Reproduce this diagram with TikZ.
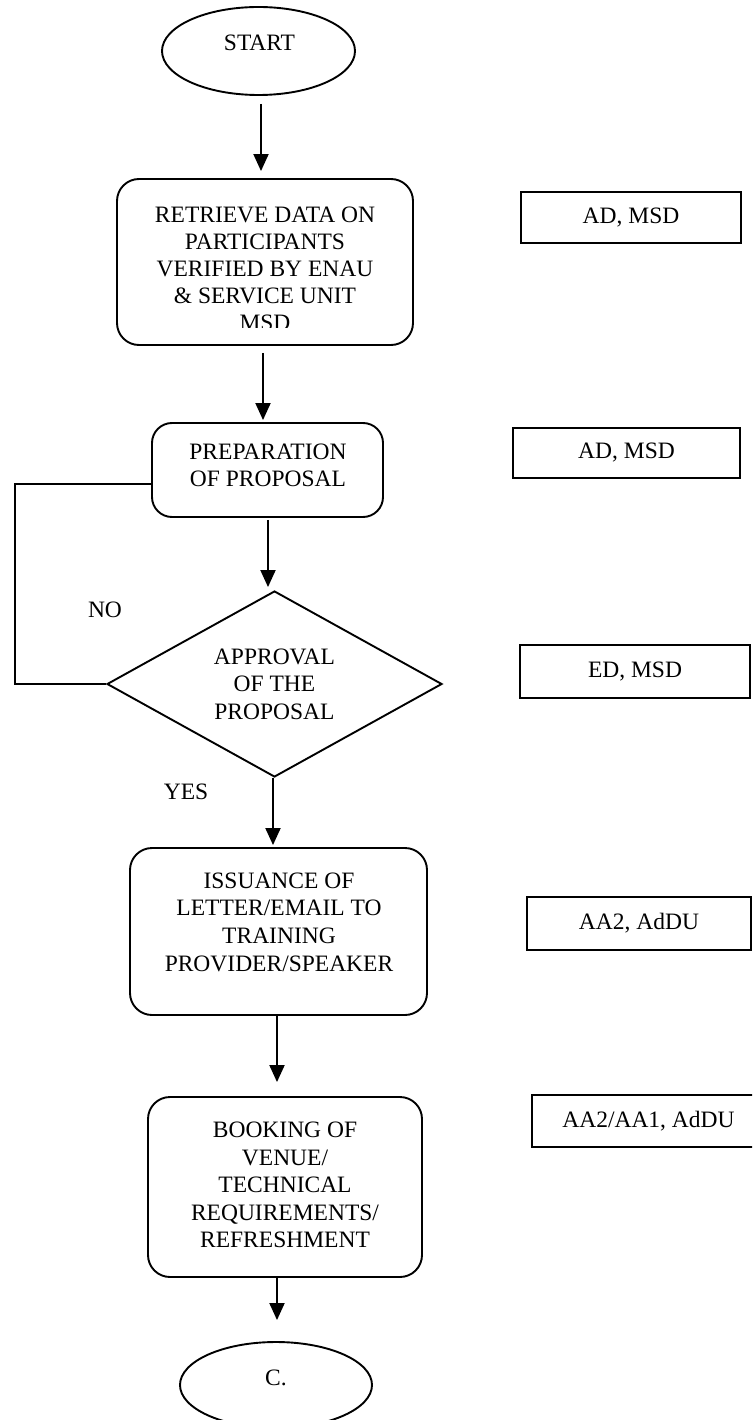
\documentclass[tikz,border=0pt]{standalone}
\usepackage{fontspec}
\setmainfont{Liberation Serif}
\usetikzlibrary{shapes.geometric,arrows.meta}
\begin{document}
\begin{tikzpicture}[x=1pt,y=1pt,
  every node/.style={font=\fontsize{23.5}{27.5}\selectfont},
  flow/.style={draw=black, line width=1.9pt},
  stepbox/.style={flow, rounded corners=22pt, inner sep=0pt},
  rolebox/.style={draw=black, line width=1.8pt, inner sep=0pt},
  terminal/.style={flow, ellipse, inner sep=0pt},
  decision/.style={flow, diamond, aspect=1.8, inner sep=0pt, align=center},
  txt/.style={align=center, inner sep=0pt},
  arr/.style={line width=1.9pt, -{Triangle[length=17pt,width=15pt]}},
  link/.style={line width=1.9pt},
]
\useasboundingbox (0,0) rectangle (752,-1420);
\fill[white] (0,0) rectangle (752,-1420);
\clip (0,0) rectangle (752,-1420);

% main column: shapes
\node[terminal, minimum width=193pt, minimum height=88pt] (start) at (258.5,-51) {};
\node[txt] (tstart) at (259.5,-43) {START};

\node[stepbox, minimum width=296pt, minimum height=166pt] (b1) at (265,-262) {};
\begin{scope}
  \clip (117,-179) rectangle (413,-327);
  \node[txt, font=\fontsize{23.5}{27}\selectfont] (t1) at (265,-269)
    {RETRIEVE DATA ON\\PARTICIPANTS\\VERIFIED BY ENAU\\\& SERVICE UNIT\\MSD};
\end{scope}

\node[stepbox, rounded corners=20pt, minimum width=231pt, minimum height=94pt] (b2) at (267.5,-470) {};
\node[txt, font=\fontsize{23.5}{27}\selectfont] (t2) at (268,-465.5) {PREPARATION\\OF PROPOSAL};

\node[decision, minimum width=335pt, minimum height=186pt] (d) at (274.5,-684)
  {APPROVAL\\OF THE\\PROPOSAL};

\node[stepbox, minimum width=297pt, minimum height=167pt] (b3) at (278.5,-931.5) {};
\node[txt, font=\fontsize{23.5}{27.7}\selectfont] (t3) at (279,-922)
  {ISSUANCE OF\\LETTER/EMAIL TO\\TRAINING\\PROVIDER/SPEAKER};

\node[stepbox, minimum width=274pt, minimum height=180pt] (b4) at (285,-1187) {};
\node[txt] (t4) at (285,-1185)
  {BOOKING OF\\VENUE/\\TECHNICAL\\REQUIREMENTS/\\REFRESHMENT};

\node[terminal, minimum width=192pt, minimum height=86pt] (c) at (276,-1385) {};
\node[txt] (tc) at (276,-1378) {C.};

% branch labels
\node[txt] (no) at (105,-610) {NO};
\node[txt] (yes) at (186,-792) {YES};

% responsible units
\node[rolebox, minimum width=220pt, minimum height=51pt] (r1) at (631,-217.5) {AD, MSD};
\node[rolebox, minimum width=227pt, minimum height=50pt] (r2) at (626.5,-453) {AD, MSD};
\node[rolebox, minimum width=230pt, minimum height=53pt] (r3) at (635,-671.5) {ED, MSD};
\node[rolebox, minimum width=224pt, minimum height=53pt] (r4) at (639,-923.5) {AA2, AdDU};
\node[rolebox, minimum width=233pt, minimum height=52pt] (r5) at (648.5,-1121) {AA2/AA1, AdDU};

% connectors
\draw[arr, shorten <=8pt, shorten >=7pt] ([xshift=2.5pt]start.south) -- ([xshift=2.5pt]start.south |- b1.north);
\draw[arr, shorten <=7pt, shorten >=2pt] ([xshift=-2pt]b1.south) -- ([xshift=-2pt]b1.south |- b2.north);
\draw[arr, shorten <=2pt, shorten >=3pt] ([xshift=0.5pt]b2.south) -- ([xshift=0.5pt]b2.south |- d.north);
\draw[arr, shorten >=2pt] ([xshift=-1.5pt]d.south) -- ([xshift=-1.5pt]d.south |- b3.north);
\draw[arr, shorten >=14pt] ([xshift=-1.5pt]b3.south) -- ([xshift=-1.5pt]b3.south |- b4.north);
\draw[arr, shorten >=21pt] ([xshift=-8pt]b4.south) -- ([xshift=-8pt]b4.south |- c.north);

% rejection loop back to the proposal
\coordinate (noturn) at (15,0);
\draw[link] ([yshift=-14pt]b2.west) -| (noturn |- d.west) -- (d.west);
\end{tikzpicture}
\end{document}
